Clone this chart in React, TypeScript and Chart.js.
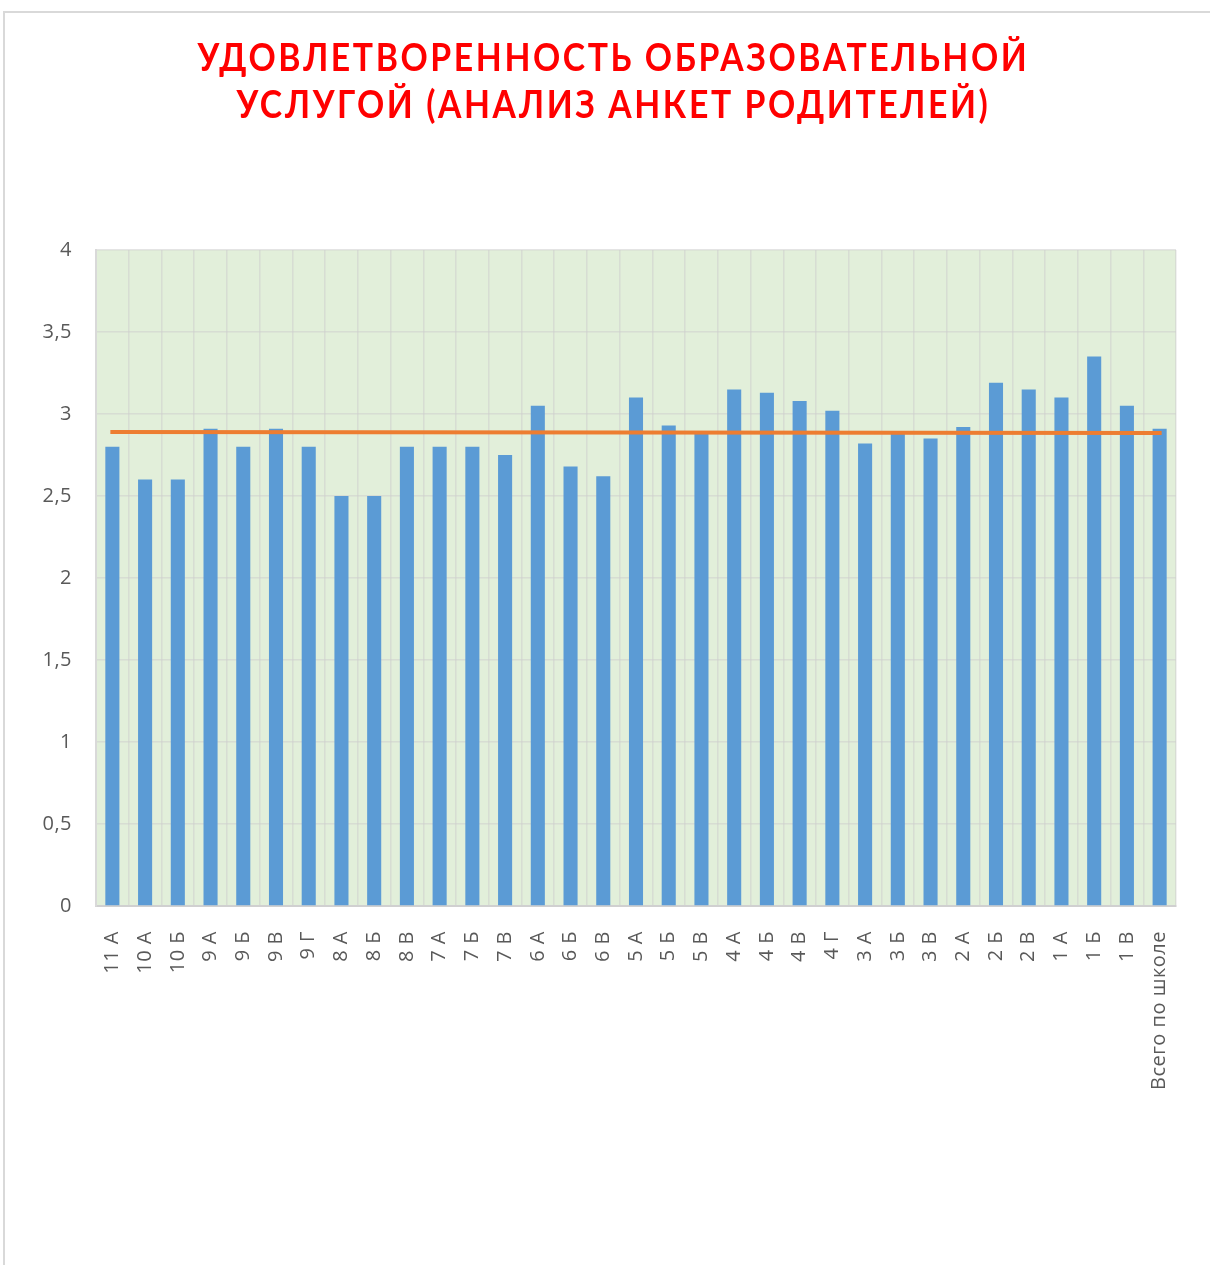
import React, { useEffect, useRef } from "react";
import { Chart, registerables } from "chart.js";

Chart.register(...registerables);

const categories: string[] = [
  "11 А", "10 А", "10 Б", "9 А", "9 Б", "9 В", "9 Г", "8 А", "8 Б", "8 В", "7 А",
  "7 Б", "7 В", "6 А", "6 Б", "6 В", "5 А", "5 Б", "5 В", "4 А", "4 Б", "4 В",
  "4 Г", "3 А", "3 Б", "3 В", "2 А", "2 Б", "2 В", "1 А", "1 Б", "1 В", "Всего по школе",
];

const satisfaction: number[] = [
  2.8, 2.6, 2.6, 2.91, 2.8, 2.91, 2.8, 2.5, 2.5, 2.8, 2.8,
  2.8, 2.75, 3.05, 2.68, 2.62, 3.1, 2.93, 2.88, 3.15, 3.13, 3.08,
  3.02, 2.82, 2.88, 2.85, 2.92, 3.19, 3.15, 3.1, 3.35, 3.05, 2.91,
];

// Linear trend line end values (first and last category)
const trendStart = 2.89;
const trendEnd = 2.884;

const yTicks: number[] = [0, 0.5, 1, 1.5, 2, 2.5, 3, 3.5, 4];

const titleLines: string[] = [
  "УДОВЛЕТВОРЕННОСТЬ ОБРАЗОВАТЕЛЬНОЙ",
  "УСЛУГОЙ (АНАЛИЗ АНКЕТ РОДИТЕЛЕЙ)",
];

const W = 1210;
const H = 1265;

export default function App() {
  const canvasRef = useRef<HTMLCanvasElement | null>(null);

  useEffect(() => {
    if (!canvasRef.current) return;
    const trend: (number | null)[] = categories.map((_, i) =>
      i === 0 ? trendStart : i === categories.length - 1 ? trendEnd : null
    );

    const plotBg = {
      id: "plotBg",
      beforeDraw(chart: any) {
        const { ctx, chartArea } = chart;
        if (!chartArea) return;
        ctx.save();
        ctx.fillStyle = "#e2efda";
        ctx.fillRect(
          chartArea.left,
          chartArea.top,
          chartArea.right - chartArea.left,
          chartArea.bottom - chartArea.top
        );
        ctx.restore();
        try {
          (ctx as any).letterSpacing = "0.5px";
        } catch (e) {}
      },
    };

    const chart = new Chart(canvasRef.current, {
      type: "bar",
      data: {
        labels: categories,
        datasets: [
          {
            type: "line",
            label: "Тренд",
            data: trend as any,
            spanGaps: true,
            borderColor: "#ed7d31",
            borderWidth: 4,
            borderCapStyle: "square",
            pointRadius: 0,
            fill: false,
            order: 0,
          } as any,
          {
            type: "bar",
            label: "Удовлетворенность",
            data: satisfaction,
            backgroundColor: "#5b9bd5",
            barPercentage: 0.43,
            categoryPercentage: 1,
            order: 1,
          },
        ],
      },
      options: {
        responsive: false,
        animation: false,
        devicePixelRatio: 1,
        layout: { padding: { top: 250, right: 34, left: 0, bottom: 0 } },
        plugins: {
          legend: { display: false },
          tooltip: { enabled: false },
          title: { display: false },
        },
        scales: {
          x: {
            offset: true,
            grid: {
              offset: true,
              color: "rgba(205,205,205,0.55)",
              lineWidth: 1.5,
              drawTicks: false,
            },
            border: { color: "#d0d0d0", width: 2 },
            ticks: {
              autoSkip: false,
              maxRotation: 90,
              minRotation: 90,
              padding: 25,
              color: "#595959",
              font: { family: "'Open Sans'", size: 20 },
            },
            afterFit(scale: any) {
              scale.height = H - 906;
            },
          },
          y: {
            min: 0,
            max: 4,
            afterBuildTicks(scale: any) {
              scale.ticks = yTicks.map((v) => ({ value: v }));
            },
            grid: {
              color: "rgba(205,205,205,0.55)",
              lineWidth: 1.5,
              drawTicks: false,
            },
            border: { color: "#d9d9d9", width: 2 },
            ticks: {
              padding: 24,
              color: "#595959",
              font: { family: "'Open Sans'", size: 20 },
              callback: (v: any) => String(v).replace(".", ","),
            },
            afterFit(scale: any) {
              scale.width = 96;
            },
          },
        },
      },
      plugins: [plotBg],
    });
    return () => chart.destroy();
  }, []);

  return (
    <div
      style={{
        position: "fixed",
        left: 0,
        top: 0,
        width: W,
        height: H,
        overflow: "hidden",
        background: "#ffffff",
      }}
    >
      <div
        style={{
          position: "absolute",
          left: 3,
          top: 11,
          width: 1240,
          height: 1300,
          borderLeft: "2px solid #d9d9d9",
          borderTop: "2px solid #d9d9d9",
        }}
      />
      <canvas
        ref={canvasRef}
        width={W}
        height={H}
        style={{ position: "absolute", left: 0, top: 0, width: W, height: H }}
      />
      <div
        style={{
          position: "absolute",
          left: 3,
          top: 33,
          width: 1220,
          textAlign: "center",
          fontFamily: "Lato, 'Open Sans', sans-serif",
          fontWeight: 700,
          fontSize: 39,
          lineHeight: "47px",
          letterSpacing: "3px",
          color: "#ff0000",
          transform: "scaleX(0.865)",
          transformOrigin: "613px 0",
        }}
      >
        {titleLines.map((t, i) => (
          <div key={i}>{t}</div>
        ))}
      </div>
    </div>
  );
}
